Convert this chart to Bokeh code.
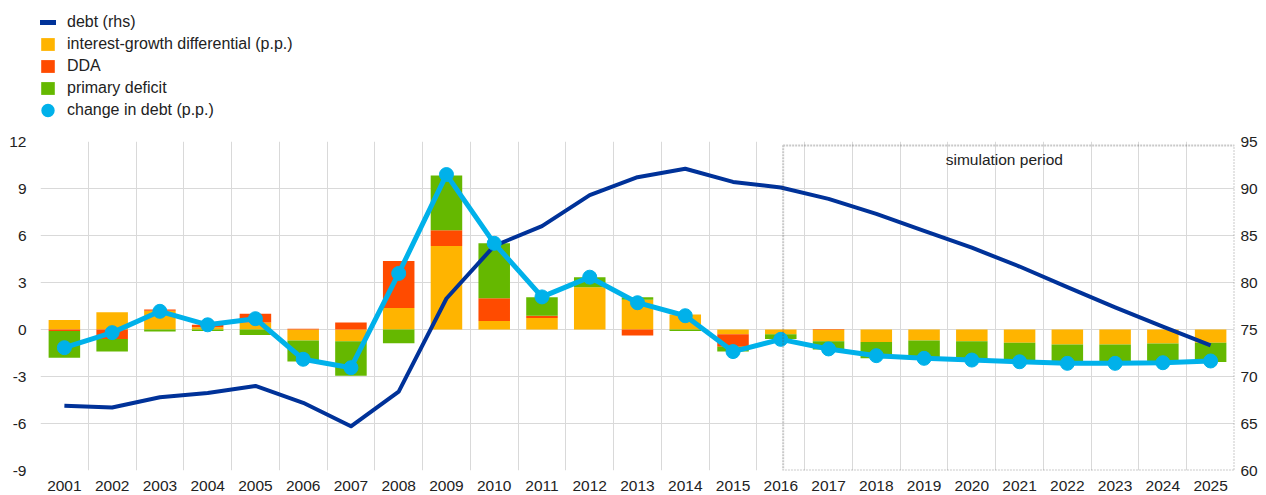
import numpy as np
from bokeh.plotting import figure
from bokeh.layouts import column
from bokeh.models import (ColumnDataSource, Range1d, LinearAxis, FixedTicker,
                          BoxAnnotation, Label, Legend, LegendItem)
from bokeh.embed import file_html
from bokeh.resources import INLINE

years = list(range(2001, 2026))
igd = [0.6, 1.1, 1.2, 0.15, 0.45, -0.7, -0.75, 1.37, 5.33, 0.55, 0.73, 2.7, 1.9, 0.95,
       -0.3, -0.3, -0.75, -0.8, -0.7, -0.75, -0.85, -0.95, -0.95, -0.9, -0.85]
dda = [-0.1, -0.6, 0.08, 0.15, 0.55, 0.05, 0.45, 3.0, 1.0, 1.45, 0.15, 0.0, -0.39, 0.0,
       -0.8, 0.0, 0.03, 0.0, 0.0, 0.0, 0.0, 0.0, 0.0, 0.0, 0.0]
pdef = [-1.7, -0.8, -0.12, -0.1, -0.35, -1.35, -2.2, -0.88, 3.5, 3.5, 1.18, 0.64, 0.16, -0.1,
        -0.31, -0.3, -0.53, -1.03, -1.18, -1.13, -1.12, -1.18, -1.18, -1.18, -1.23]
change = [-1.16, -0.2, 1.16, 0.3, 0.69, -1.9, -2.44, 3.58, 9.89, 5.5, 2.08, 3.34, 1.71, 0.88,
          -1.41, -0.63, -1.24, -1.67, -1.84, -1.95, -2.06, -2.16, -2.16, -2.12, -2.01]
debt = [66.9, 66.7, 67.8, 68.25, 69.0, 67.2, 64.7, 68.4, 78.3, 83.9, 86.0, 89.3, 91.2, 92.1,
        90.7, 90.1, 88.9, 87.3, 85.5, 83.7, 81.7, 79.5, 77.35, 75.3, 73.3]
left_ticks = [-9, -6, -3, 0, 3, 6, 9, 12]
right_ticks = [60, 65, 70, 75, 80, 85, 90, 95]
labels = ["debt (rhs)", "interest-growth differential (p.p.)", "DDA",
          "primary deficit", "change in debt (p.p.)"]

C_DEBT = "#003299"
C_IGD = "#FFB400"
C_DDA = "#FF4B00"
C_PD = "#65B800"
C_CHG = "#00B1EA"
FONT = "Liberation Sans"
FS = "15.5px"
FS_L = "16px"
TXT = "#222222"

# ---------- stacked sources (positives and negatives stacked separately)
pos = np.zeros(len(years))
neg = np.zeros(len(years))
bar_src = []
for vals in [igd, dda, pdef]:
    v = np.array(vals, dtype=float)
    bottom = np.where(v >= 0, pos, neg)
    top = bottom + v
    pos = np.where(v >= 0, pos + v, pos)
    neg = np.where(v < 0, neg + v, neg)
    bar_src.append(ColumnDataSource(dict(x=years, bottom=bottom, top=top)))
bar_cols = [C_IGD, C_DDA, C_PD]

W = 1266
H_LEG = 125
H_MAIN = 370

# ---------- legend strip (separate figure above the chart)
lf = figure(width=W, height=H_LEG, output_backend="svg", toolbar_location=None,
            x_range=Range1d(2000.5, 2025.5), y_range=Range1d(-9, 12),
            x_axis_location=None, y_axis_location=None,
            min_border_left=40, min_border_right=32, min_border_top=0, min_border_bottom=0)
lf.outline_line_color = None
lf.xgrid.visible = False
lf.ygrid.visible = False
lf.extra_y_ranges = {"rhs": Range1d(60, 95)}
lr_debt = lf.line(years, debt, y_range_name="rhs", line_color=C_DEBT, line_width=5, visible=False)
lr_bars = [lf.vbar(x="x", bottom="bottom", top="top", width=0.66, source=s,
                   fill_color=c, line_color=None, visible=False)
           for s, c in zip(bar_src, bar_cols)]
lr_chg = lf.scatter(years, change, size=6, fill_color=C_CHG, line_color=C_CHG,
                    line_width=7, visible=False)
legend = Legend(items=[LegendItem(label=lab, renderers=[r]) for lab, r in
                       zip(labels, [lr_debt] + lr_bars + [lr_chg])],
                location=(-1, 6), orientation="vertical")
legend.padding = 0
legend.margin = 0
legend.spacing = 4
legend.glyph_width = 17
legend.glyph_height = 16
legend.label_height = 15
legend.label_standoff = 11
legend.label_text_font = FONT
legend.label_text_font_size = FS_L
legend.label_text_color = TXT
legend.border_line_color = None
legend.background_fill_alpha = 0
legend.inactive_fill_alpha = 0
lf.add_layout(legend)

# ---------- main chart
p = figure(width=W, height=H_MAIN, output_backend="svg", toolbar_location=None,
           x_range=Range1d(2000.5, 2025.5), y_range=Range1d(-9, 12),
           min_border_left=40, min_border_right=32, min_border_top=141 - H_LEG,
           min_border_bottom=25)
p.outline_line_color = None
p.extra_y_ranges = {"rhs": Range1d(60, 95)}

for s, c in zip(bar_src, bar_cols):
    p.vbar(x="x", bottom="bottom", top="top", width=0.66, source=s,
           fill_color=c, line_color=None)

p.line(years, debt, y_range_name="rhs", line_color=C_DEBT, line_width=4, line_join="round")
p.line(years, change, line_color=C_CHG, line_width=5, line_join="round")
p.scatter(years, change, size=14, fill_color=C_CHG, line_color=C_CHG)

box = BoxAnnotation(left=2016.05, right=2025.5, bottom=-9, top=11.75, fill_alpha=0,
                    line_color="#4d4d4d", line_width=2, line_dash="2 1")
p.add_layout(box)
p.add_layout(Label(x=2020.68, y=10.85, text="simulation period", text_align="center",
                   text_baseline="middle", text_font=FONT, text_font_size=FS,
                   text_color=TXT))

p.xaxis.ticker = FixedTicker(ticks=years)
p.yaxis.ticker = FixedTicker(ticks=left_ticks)
p.yaxis.major_label_overrides = {t: str(t) for t in left_ticks}
rax = LinearAxis(y_range_name="rhs", ticker=FixedTicker(ticks=right_ticks))
p.add_layout(rax, "right")
for ax in [p.xaxis[0], p.yaxis[0], rax]:
    ax.axis_line_color = None
    ax.major_tick_line_color = None
    ax.minor_tick_line_color = None
    ax.major_tick_out = 0
    ax.minor_tick_out = 0
    ax.major_label_text_font = FONT
    ax.major_label_text_font_size = FS
    ax.major_label_text_color = TXT
p.xaxis.major_label_standoff = 10
p.yaxis[0].major_label_standoff = 14
rax.major_label_standoff = 6

p.xgrid.ticker = FixedTicker(ticks=[y - 0.5 for y in years] + [2025.5])
p.ygrid.ticker = FixedTicker(ticks=left_ticks)
p.xgrid.grid_line_color = "#d9d9d9"
p.ygrid.grid_line_color = "#d9d9d9"

layout = column(lf, p, spacing=0)
open("out.html", "w").write(file_html(layout, INLINE))
